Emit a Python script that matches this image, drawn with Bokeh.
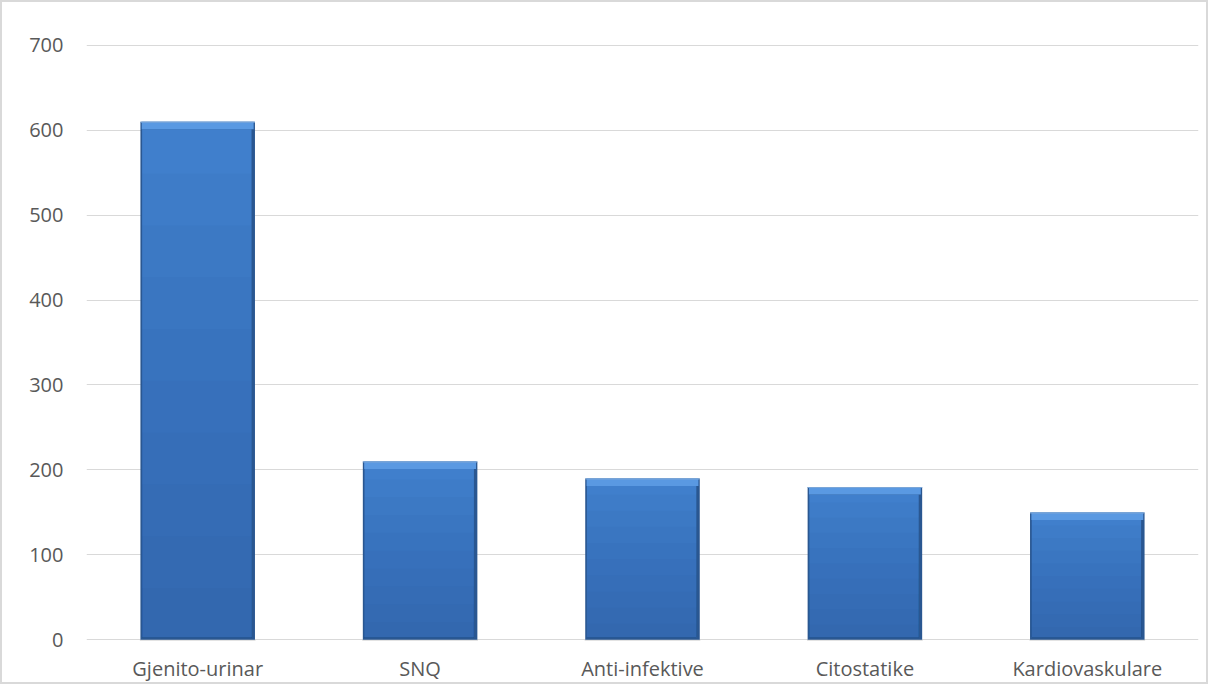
from bokeh.plotting import figure
from bokeh.models import ColumnDataSource, FixedTicker, Range1d
from bokeh.transform import dodge
from bokeh.embed import file_html
from bokeh.resources import INLINE

categories = ["Gjenito-urinar", "SNQ", "Anti-infektive", "Citostatike", "Kardiovaskulare"]
values = [610, 210, 190, 180, 150]
y_ticks = [0, 100, 200, 300, 400, 500, 600, 700]

src = ColumnDataSource(dict(
    cat=categories,
    val=values,
    inner_top=[v - 9 for v in values],
    bevel_bottom=[v - 9 for v in values],
    rim_bottom=[v - 1.2 for v in values],
))

p = figure(x_range=categories, y_range=Range1d(-0.8, 700.8), width=1208, height=684,
           output_backend="svg", toolbar_location=None,
           min_border_left=84, min_border_right=12, min_border_top=42, min_border_bottom=46)
p.styles = {"border": "2px solid #d9d9d9", "box-sizing": "border-box"}

# shadow under bars
p.vbar(x="cat", top=-2.5, bottom=0, width=0.52, source=src, fill_color="#c8c8c8", line_color=None)
# dark outer body (edges)
p.vbar(x="cat", top="val", width=0.515, source=src, fill_color="#2A5791", line_color=None)
# main body
p.vbar(x=dodge("cat", -0.004, range=p.x_range), top="inner_top", bottom=3, width=0.492,
       source=src, fill_color="#407FCC", line_color=None)
# vertical shading towards the bottom
for f in [0.9, 0.8, 0.7, 0.6, 0.5, 0.4, 0.3, 0.2, 0.1]:
    shade = ColumnDataSource(dict(cat=categories, top=[v * f for v in values]))
    p.vbar(x=dodge("cat", -0.004, range=p.x_range), top="top", bottom=3,
           width=0.492, source=shade,
           fill_color="#1f3f70", fill_alpha=0.035, line_color=None)
# top bevel highlight
p.vbar(x="cat", top="val", bottom="bevel_bottom", width=0.503, source=src,
       fill_color="#5A99E2", line_color=None)
p.vbar(x="cat", top="val", bottom="rim_bottom", width=0.515, source=src,
       fill_color="#7aa6d8", line_color=None)

p.yaxis.ticker = FixedTicker(ticks=y_ticks)
p.ygrid.ticker = FixedTicker(ticks=y_ticks)
p.xgrid.grid_line_color = None
p.ygrid.grid_line_color = "#d9d9d9"
p.ygrid.grid_line_width = 1

for ax in (p.xaxis, p.yaxis):
    ax.axis_line_color = None
    ax.major_tick_line_color = None
    ax.minor_tick_line_color = None
    ax.major_label_text_font = "Open Sans"
    ax.major_label_text_font_size = "20px"
    ax.major_label_text_color = "#595959"
p.yaxis.major_label_standoff = 17
p.xaxis.major_label_standoff = 8
p.outline_line_color = None

open("out.html", "w").write(file_html(p, INLINE))
